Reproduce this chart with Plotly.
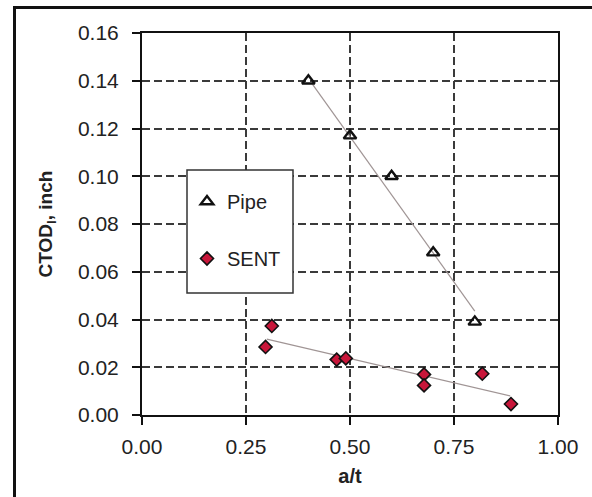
import plotly.graph_objects as go

# ---- data ----
pipe_x = [0.40, 0.50, 0.60, 0.70, 0.80]
pipe_y = [0.140, 0.117, 0.100, 0.068, 0.039]

sent_x = [0.297, 0.312, 0.468, 0.490, 0.678, 0.678, 0.818, 0.887]
sent_y = [0.0285, 0.0373, 0.0232, 0.0237, 0.0170, 0.0124, 0.0173, 0.0046]

pipe_trend_x = [0.41, 0.80]
pipe_trend_y = [0.1385, 0.0435]
sent_trend_x = [0.30, 0.885]
sent_trend_y = [0.0318, 0.0080]

x_ticks = [0.00, 0.25, 0.50, 0.75, 1.00]
x_ticklabels = ["0.00", "0.25", "0.50", "0.75", "1.00"]
y_ticks = [0.00, 0.02, 0.04, 0.06, 0.08, 0.10, 0.12, 0.14, 0.16]
y_ticklabels = ["0.00", "0.02", "0.04", "0.06", "0.08", "0.10", "0.12", "0.14", "0.16"]

# ---- layout geometry (pixels) ----
W, H = 592, 497
ML, MR, MT, MB = 142, 34, 33, 82
PW, PH = W - ML - MR, H - MT - MB


def px_x(p):
    return (p - ML) / PW


def px_y(p):
    return (H - MB - p) / PH


FONT = "Liberation Sans, Arial, sans-serif"
TREND_COLOR = "#a09595"
GRID_COLOR = "#3a3a3a"

fig = go.Figure()

fig.add_trace(go.Scatter(x=pipe_trend_x, y=pipe_trend_y, mode="lines",
                         line=dict(color=TREND_COLOR, width=1.2),
                         showlegend=False, hoverinfo="skip"))
fig.add_trace(go.Scatter(x=sent_trend_x, y=sent_trend_y, mode="lines",
                         line=dict(color=TREND_COLOR, width=1.2),
                         showlegend=False, hoverinfo="skip"))

fig.add_trace(go.Scatter(x=pipe_x, y=pipe_y, mode="markers", name="Pipe",
                         legendgroup="a",
                         marker=dict(symbol="triangle-up-open", size=11,
                                     color="#111111",
                                     line=dict(color="#111111", width=2.4))))
fig.add_trace(go.Scatter(x=sent_x, y=sent_y, mode="markers", name="SENT",
                         legendgroup="b",
                         marker=dict(symbol="diamond", size=10,
                                     color="#c8163a",
                                     line=dict(color="#111111", width=1.6))))

shapes = [
    # legend box
    dict(type="rect", xref="paper", yref="paper",
         x0=px_x(187), x1=px_x(293), y0=px_y(293), y1=px_y(170),
         fillcolor="white", line=dict(color="#333333", width=1.5), layer="above"),
    # outer frame (left and top edges)
    dict(type="line", xref="paper", yref="paper",
         x0=px_x(14.5), x1=px_x(14.5), y0=px_y(6), y1=px_y(510),
         line=dict(color="#111111", width=3)),
    dict(type="line", xref="paper", yref="paper",
         x0=px_x(13), x1=px_x(610), y0=px_y(7.5), y1=px_y(7.5),
         line=dict(color="#111111", width=3)),
]

axis_common = dict(
    showline=True, linecolor="#111111", linewidth=2, mirror=True,
    ticks="outside", ticklen=8, tickwidth=2, tickcolor="#111111",
    showgrid=True, gridcolor=GRID_COLOR, gridwidth=2, griddash="8px,4px",
    zeroline=False,
    tickfont=dict(family=FONT, size=21, color="#222222"),
)

fig.update_layout(
    width=W, height=H,
    margin=dict(l=ML, r=MR, t=MT, b=MB),
    paper_bgcolor="white", plot_bgcolor="white",
    font=dict(family=FONT, color="#222222"),
    shapes=shapes,
    showlegend=True,
    legend=dict(x=px_x(187), y=px_y(182), xanchor="left", yanchor="top",
                bgcolor="rgba(0,0,0,0)", borderwidth=0,
                font=dict(family=FONT, size=20, color="#222222"),
                tracegroupgap=28),
    xaxis=dict(range=[0, 1], tickvals=x_ticks, ticktext=x_ticklabels,
               ticklabelstandoff=4,
               title=dict(text="a/t", standoff=12,
                          font=dict(family=FONT, size=20, weight="bold", color="#222222")),
               **axis_common),
    yaxis=dict(range=[0, 0.16], tickvals=y_ticks, ticktext=y_ticklabels,
               ticklabelstandoff=9,
               title=dict(text="CTOD<sub>I</sub>, inch", standoff=20,
                          font=dict(family=FONT, size=19, weight="bold", color="#222222")),
               **axis_common),
)

fig.write_html("out.html",
               config={"displayModeBar": False},
               post_script="document.body.style.margin='0';document.body.style.overflow='hidden';")
